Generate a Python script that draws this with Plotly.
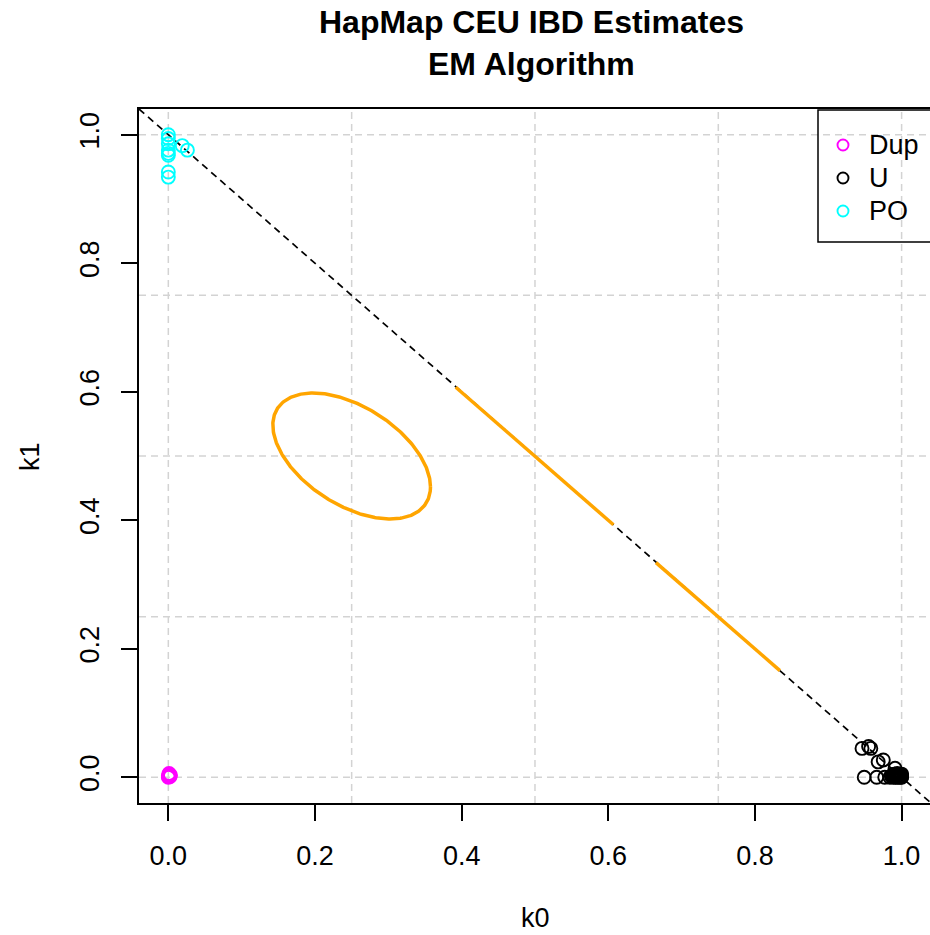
import numpy as np
import plotly.graph_objects as go

# ---------------- data ----------------
dup_k0 = [0.000, 0.001, 0.002, 0.000, 0.003, 0.001]
dup_k1 = [0.002, 0.004, 0.001, 0.000, 0.003, 0.006]

u_k0 = [0.946, 0.955, 0.958, 0.968, 0.975, 0.991,
        0.949, 0.966, 0.977, 0.984, 0.987, 0.989, 0.991, 0.992, 0.993, 0.994,
        0.995, 0.996, 0.997, 0.998, 0.999, 1.000, 1.000, 0.990, 0.994, 0.996,
        0.998, 0.999, 0.993, 0.997, 1.000, 1.000, 0.986, 0.988]
u_k1 = [0.045, 0.048, 0.045, 0.024, 0.027, 0.014,
        0.000, 0.000, 0.000, 0.000, 0.001, 0.000, 0.002, 0.000, 0.003, 0.001,
        0.000, 0.004, 0.001, 0.000, 0.002, 0.000, 0.003, 0.005, 0.006, 0.002,
        0.005, 0.001, 0.004, 0.003, 0.001, 0.005, 0.002, 0.004]

po_k0 = [0.000, 0.000, 0.000, 0.000, 0.000, 0.000, 0.000, 0.000, 0.019, 0.026]
po_k1 = [1.000, 0.994, 0.986, 0.976, 0.968, 0.971, 0.942, 0.934, 0.983, 0.976]

legend_names = ["Dup", "U", "PO"]
legend_colors = ["#FF00FF", "black", "#00FFFF"]

# relationship regions (orange)
ell_center = (0.25, 0.50)
ell_half_k0 = 0.1075
ell_half_k1 = 0.098
ell_rho = -0.49

seg_k0 = [[0.392, 0.607], [0.665, 0.834]]
seg_k1 = [[0.607, 0.393], [0.334, 0.166]]

tick_vals = [0.0, 0.2, 0.4, 0.6, 0.8, 1.0]
tick_text = ["0.0", "0.2", "0.4", "0.6", "0.8", "1.0"]
grid_vals = [0.0, 0.25, 0.5, 0.75, 1.0]

XR = [-0.04, 1.0387]
YR = [-0.04, 1.04]

FONT = "Liberation Sans, Arial, Helvetica, sans-serif"
ORANGE = "#FFA500"
FS = 27

W, H = 930, 935
ML, MR, MT, MB = 139, 0, 109, 132
pw, ph = W - ML - MR, H - MT - MB


def px_x(p):
    return (p - ML) / pw


def px_y(p):
    return (H - MB - p) / ph


fig = go.Figure()

# grid
for g in grid_vals:
    fig.add_shape(type="line", xref="x", yref="paper", x0=g, x1=g, y0=0, y1=1,
                  line=dict(color="#D3D3D3", width=1.5, dash="7px,5px"), layer="below")
    fig.add_shape(type="line", xref="paper", yref="y", x0=0, x1=1, y0=g, y1=g,
                  line=dict(color="#D3D3D3", width=1.5, dash="7px,5px"), layer="below")

# diagonal k0 + k1 = 1
fig.add_trace(go.Scatter(x=XR, y=[1 - v for v in XR], mode="lines",
                         line=dict(color="black", width=1.7, dash="7px,5px"),
                         showlegend=False, hoverinfo="skip"))

# ellipse
t = np.linspace(0, 2 * np.pi, 361)
ex = ell_center[0] + ell_half_k0 * np.cos(t)
ey = ell_center[1] + ell_half_k1 * (ell_rho * np.cos(t) + np.sqrt(1 - ell_rho ** 2) * np.sin(t))
fig.add_trace(go.Scatter(x=ex, y=ey, mode="lines", line=dict(color=ORANGE, width=3.5),
                         showlegend=False, hoverinfo="skip"))
for sx, sy in zip(seg_k0, seg_k1):
    fig.add_trace(go.Scatter(x=sx, y=sy, mode="lines", line=dict(color=ORANGE, width=3.5),
                             showlegend=False, hoverinfo="skip"))


def pts(x, y, color, name):
    fig.add_trace(go.Scatter(x=x, y=y, mode="markers", name=name, showlegend=False,
                             marker=dict(symbol="circle-open", size=13, color=color,
                                         line=dict(color=color, width=1.9)),
                             cliponaxis=False))


pts(dup_k0, dup_k1, legend_colors[0], legend_names[0])
pts(u_k0, u_k1, legend_colors[1], legend_names[1])
pts(po_k0, po_k1, legend_colors[2], legend_names[2])

# manual legend (R style) on a pixel-coordinate overlay axis
LEG_LEFT, LEG_TOP, LEG_BOTTOM = 818, 110, 242
LEG_SYM_X, LEG_TXT_X = 843, 867
LEG_ROWS = [145, 178, 211]
fig.add_trace(go.Scatter(x=[LEG_SYM_X] * 3, y=LEG_ROWS, xaxis="x2", yaxis="y2", mode="markers",
                         marker=dict(symbol="circle-open", size=11, color=legend_colors,
                                     line=dict(color=legend_colors, width=1.9)),
                         showlegend=False, hoverinfo="skip", cliponaxis=False))

annotations = [
    dict(text="<b>HapMap CEU IBD Estimates</b>", x=px_x(531), y=px_y(22), xref="paper", yref="paper",
         showarrow=False, font=dict(family=FONT, size=32, color="black"), xanchor="center", yanchor="middle"),
    dict(text="<b>EM Algorithm</b>", x=px_x(531), y=px_y(64), xref="paper", yref="paper",
         showarrow=False, font=dict(family=FONT, size=32, color="black"), xanchor="center", yanchor="middle"),
    dict(text="k0", x=px_x(535), y=px_y(918), xref="paper", yref="paper",
         showarrow=False, font=dict(family=FONT, size=FS, color="black"), xanchor="center", yanchor="middle"),
    dict(text="k1", x=px_x(30), y=px_y(457), xref="paper", yref="paper", textangle=-90,
         showarrow=False, font=dict(family=FONT, size=FS, color="black"), xanchor="center", yanchor="middle"),
]
for name, ry in zip(legend_names, LEG_ROWS):
    annotations.append(dict(text=name, x=px_x(LEG_TXT_X), y=px_y(ry), xref="paper", yref="paper",
                            showarrow=False, font=dict(family=FONT, size=FS, color="black"),
                            xanchor="left", yanchor="middle"))

fig.add_shape(type="rect", xref="paper", yref="paper",
              x0=px_x(LEG_LEFT), x1=px_x(W + 5), y0=px_y(LEG_BOTTOM), y1=px_y(LEG_TOP),
              line=dict(color="black", width=1.5), fillcolor="rgba(0,0,0,0)", layer="above")

axis_common = dict(showline=True, linecolor="black", linewidth=1.5, ticks="outside", ticklen=16,
                   tickwidth=1.5, tickcolor="black", tickvals=tick_vals, ticktext=tick_text,
                   showgrid=False, zeroline=False, automargin=False,
                   tickfont=dict(family=FONT, size=FS, color="black"))

fig.update_layout(
    width=W, height=H,
    margin=dict(l=ML, r=MR, t=MT, b=MB, pad=0),
    paper_bgcolor="white", plot_bgcolor="white",
    xaxis=dict(range=XR, mirror=True, ticklabelstandoff=12, **axis_common),
    yaxis=dict(range=YR, mirror=False, tickangle=-90, ticklabelstandoff=11, **axis_common),
    xaxis2=dict(range=[ML, W], overlaying="x", visible=False, fixedrange=True),
    yaxis2=dict(range=[H - MB, MT], overlaying="y", visible=False, fixedrange=True),
    showlegend=False,
    annotations=annotations,
    font=dict(family=FONT),
)

fig.write_html("out.html", config={"displayModeBar": False},
               post_script="document.body.style.margin='0';document.body.style.overflow='hidden';")
